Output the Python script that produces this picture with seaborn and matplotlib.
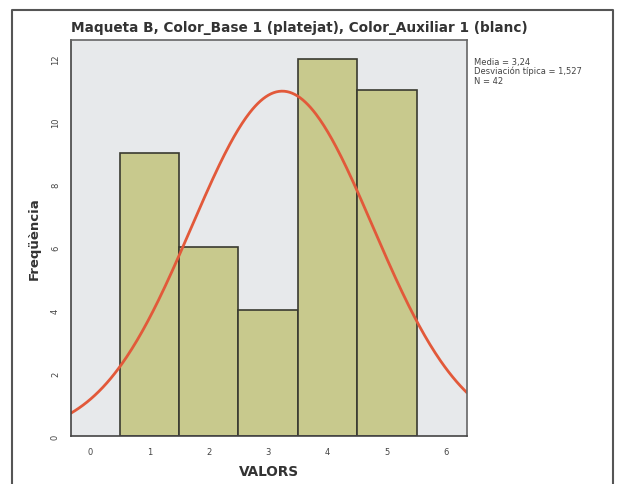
import numpy as np
import pandas as pd
import seaborn as sns
import matplotlib.pyplot as plt
from matplotlib.lines import Line2D

valors = [1, 2, 3, 4, 5]
freq = [9, 6, 4, 12, 11]
x_ticks = [0, 1, 2, 3, 4, 5, 6]
y_ticks = [0, 2, 4, 6, 8, 10, 12]

title = "Maqueta B, Color_Base 1 (platejat), Color_Auxiliar 1 (blanc)"

df = pd.DataFrame({'VALORS': np.repeat(valors, freq)})
mean = df['VALORS'].mean()
sd = df['VALORS'].std()
n = len(df)

sns.set_style('white')
plt.rcParams['font.family'] = ['DejaVu Sans']

fig = plt.figure(figsize=(6.18, 4.85), dpi=100)
ax = fig.add_axes([0.1149, 0.099, 0.6408, 0.8165])
ax.set_facecolor('#e7e9eb')

sns.histplot(data=df, x='VALORS', bins=np.arange(0.5, 6.0, 1.0), ax=ax,
             color='#c8c98d', alpha=1, edgecolor='#3a3a30', linewidth=1.2)

xs = np.linspace(-0.32, 6.35, 300)
curve = n * 1.0 / (sd * np.sqrt(2 * np.pi)) * np.exp(-0.5 * ((xs - mean) / sd) ** 2)
sns.lineplot(x=xs, y=curve, ax=ax, color='#e2593a', linewidth=2)

ax.set_xlim(-0.32, 6.35)
ax.set_ylim(0, 12.6)
ax.set_xticks(x_ticks)
ax.set_yticks(y_ticks)
ax.tick_params(axis='both', labelsize=6, length=6, width=1.2, color='#555555',
               labelcolor='#444444', direction='out', pad=2)
for lab in ax.get_yticklabels():
    lab.set_rotation(90)
    lab.set_va('center')

for side in ['left', 'bottom', 'top', 'right']:
    ax.spines[side].set_visible(True)
    ax.spines[side].set_color('#666666')
    ax.spines[side].set_linewidth(1.2)
ax.spines['left'].set_color('#444444')
ax.spines['bottom'].set_color('#444444')

ax.set_xlabel('')
ax.set_ylabel('')
fig.text(269 / 618, 1 - 472 / 485, 'VALORS', ha='center', va='center',
         fontsize=9.8, fontweight='bold', color='#333333')
fig.text(34 / 618, 1 - 239 / 485, 'Freqüència', ha='center', va='center',
         rotation=90, fontsize=9.5, fontweight='bold', color='#333333')

fig.text(71 / 618, 1 - 28 / 485, title, ha='left', va='center',
         fontsize=9.8, fontweight='bold', color='#333333')

stats = f"Media = {mean:.2f}\nDesviación típica = {sd:.3f}\nN = {n}".replace('.', ',')
fig.text(474 / 618, 1 - 58 / 485, stats, ha='left', va='top', fontsize=6,
         color='#444444', linespacing=1.0)

# outer frame (left, top, right)
fig.add_artist(Line2D([12 / 618, 12 / 618, 613 / 618, 613 / 618],
                      [0, 1 - 11 / 485, 1 - 11 / 485, 0],
                      transform=fig.transFigure, color='#555555', linewidth=1.5))

fig.savefig('out.png', dpi=100)
